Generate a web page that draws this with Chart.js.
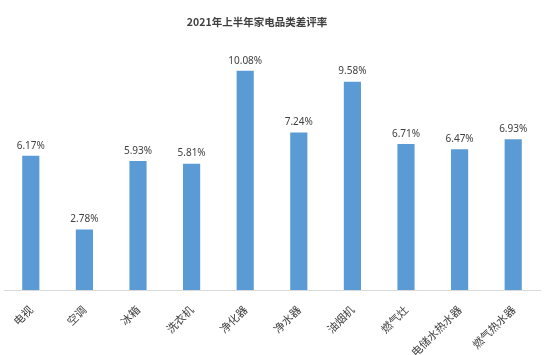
<!DOCTYPE html>
<html><head><meta charset="utf-8">
<script src="https://cdn.jsdelivr.net/npm/chart.js@4"></script>
<style>html,body{margin:0;padding:0;background:#fff}#w{width:550px;height:355px}</style>
</head><body><div id="w"><canvas id="c"></canvas></div>
<script>
const titleText = "2021年上半年家电品类差评率";
const categories = ["电视","空调","冰箱","洗衣机","净化器","净水器","油烟机","燃气灶","电储水热水器","燃气热水器"];
const values = [6.17, 2.78, 5.93, 5.81, 10.08, 7.24, 9.58, 6.71, 6.47, 6.93];

const labelPlugin = {
  id: 'lbl',
  afterDatasetsDraw(chart) {
    const ctx = chart.ctx;
    ctx.save();
    ctx.font = '10px "Noto Sans", "Open Sans", sans-serif';
    ctx.fillStyle = '#404040';
    ctx.textAlign = 'center';
    ctx.textBaseline = 'bottom';
    chart.getDatasetMeta(0).data.forEach((b, i) => {
      ctx.fillText(values[i].toFixed(2) + '%', b.x, b.y - 5);
    });
    ctx.font = 'bold 10.5px "Noto Sans CJK SC", sans-serif';
    ctx.fillStyle = '#404040';
    ctx.textBaseline = 'middle';
    ctx.fillText(titleText, 257, 22);
    ctx.restore();
  }
};

new Chart(document.getElementById('c'), {
  type: 'bar',
  data: { labels: categories, datasets: [{ data: values, backgroundColor: '#5b9bd5', barPercentage: 0.32, categoryPercentage: 1 }] },
  options: {
    responsive: true, maintainAspectRatio: false, animation: false,
    layout: { padding: { top: 29, left: 4, right: 10, bottom: 0 } },
    plugins: { legend: { display: false }, tooltip: { enabled: false } },
    scales: {
      x: {
        grid: { display: false },
        border: { display: true, color: '#d9d9d9' },
        ticks: { minRotation: 45, maxRotation: 45, autoSkip: false, padding: 5, color: '#404040', font: { size: 11, family: '"Noto Sans CJK SC", sans-serif' } },
        afterFit(s) { s.height = 65; }
      },
      y: { display: false, min: 0, max: 12 }
    }
  },
  plugins: [labelPlugin]
});
</script></body></html>
